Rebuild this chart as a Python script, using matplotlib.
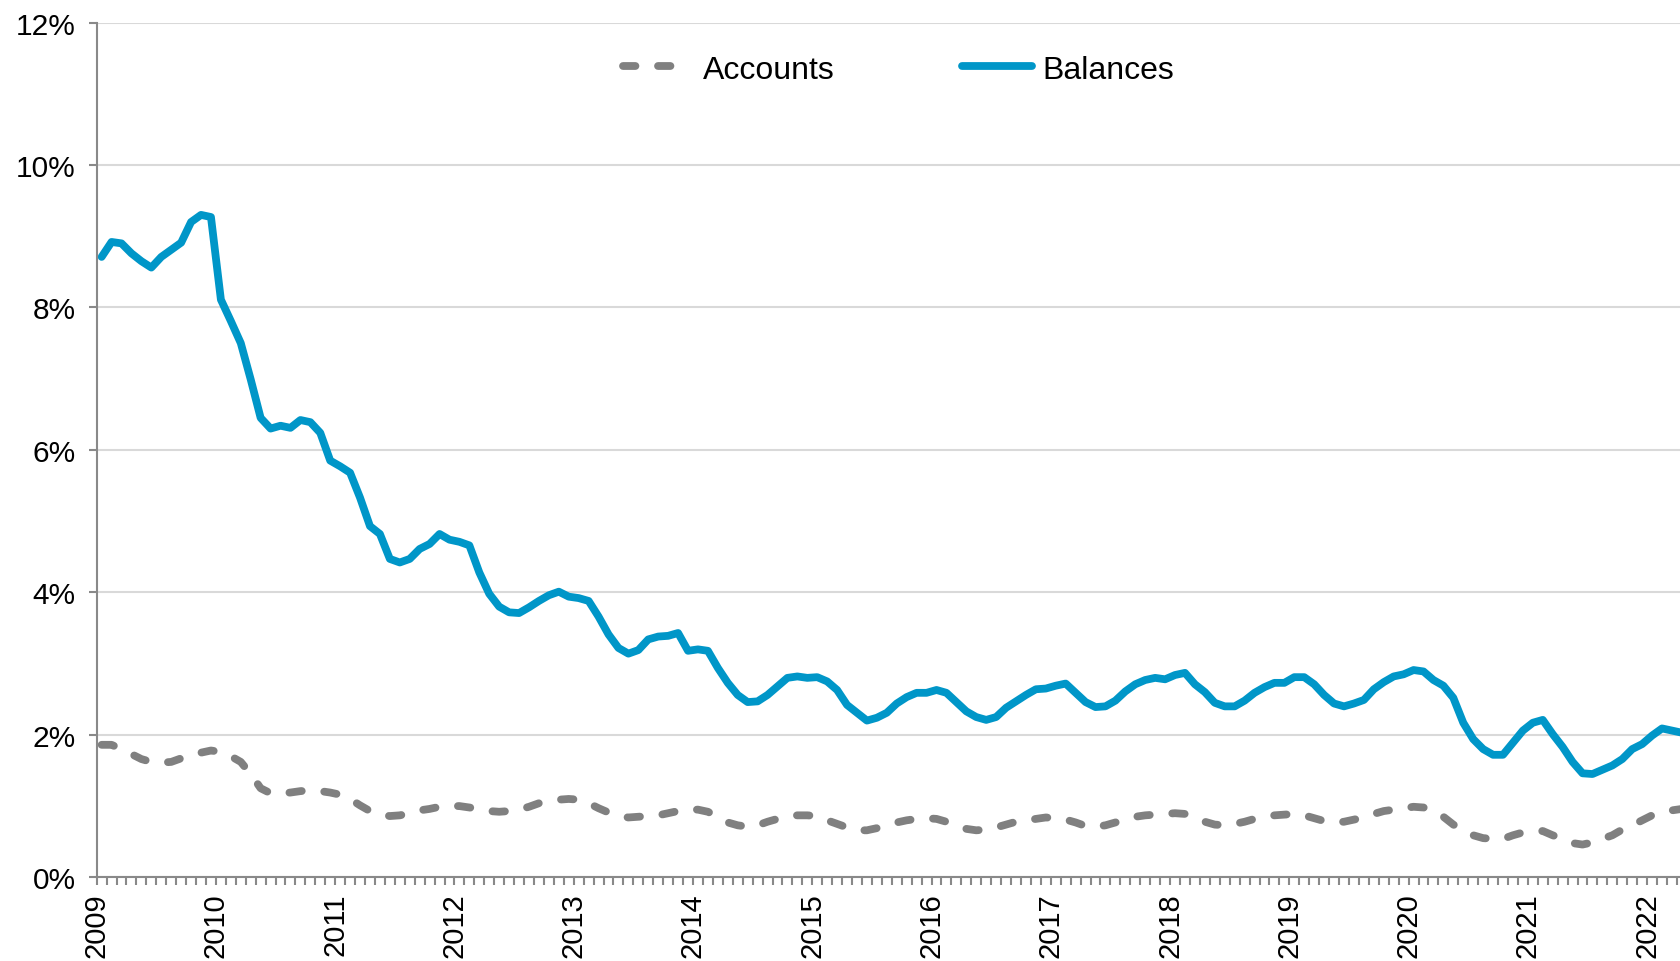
import numpy as np
import matplotlib
matplotlib.use("Agg")
import matplotlib.pyplot as plt

plt.rcParams['font.family'] = ['Liberation Sans', 'DejaVu Sans']

# Monthly data, Jan 2009 - Apr 2022 (%)
years = list(range(2009, 2023))

balances = [
    8.71, 8.92, 8.90, 8.76, 8.65, 8.56, 8.71, 8.81, 8.91, 9.20, 9.30, 9.27,  # 2009
    8.11, 7.81, 7.50, 6.99, 6.45, 6.30, 6.34, 6.31, 6.42, 6.39, 6.24, 5.85,  # 2010
    5.77, 5.68, 5.33, 4.93, 4.82, 4.47, 4.42, 4.47, 4.61, 4.68, 4.82, 4.74,  # 2011
    4.71, 4.66, 4.28, 3.98, 3.80, 3.72, 3.71, 3.79, 3.88, 3.96, 4.01, 3.94,  # 2012
    3.92, 3.88, 3.66, 3.41, 3.22, 3.14, 3.19, 3.34, 3.38, 3.39, 3.43, 3.18,  # 2013
    3.20, 3.18, 2.94, 2.73, 2.56, 2.46, 2.47, 2.56, 2.68, 2.80, 2.82, 2.80,  # 2014
    2.81, 2.75, 2.63, 2.42, 2.31, 2.20, 2.24, 2.31, 2.44, 2.53, 2.59, 2.59,  # 2015
    2.63, 2.59, 2.46, 2.33, 2.25, 2.21, 2.25, 2.38, 2.47, 2.56, 2.64, 2.65,  # 2016
    2.69, 2.72, 2.59, 2.46, 2.39, 2.40, 2.48, 2.61, 2.71, 2.77, 2.80, 2.78,  # 2017
    2.84, 2.87, 2.71, 2.60, 2.45, 2.40, 2.40, 2.48, 2.59, 2.67, 2.73, 2.73,  # 2018
    2.81, 2.81, 2.71, 2.56, 2.44, 2.40, 2.44, 2.49, 2.64, 2.74, 2.82, 2.85,  # 2019
    2.91, 2.89, 2.77, 2.69, 2.52, 2.17, 1.94, 1.80, 1.72, 1.72, 1.89, 2.06,  # 2020
    2.17, 2.21, 2.01, 1.83, 1.62, 1.46, 1.45, 1.51, 1.57, 1.66, 1.80, 1.87,  # 2021
    1.99, 2.09, 2.06, 2.03,                                                  # 2022
]

accounts = [
    1.86, 1.86, 1.80, 1.73, 1.66, 1.62, 1.61, 1.62, 1.67, 1.71, 1.75, 1.78,  # 2009
    1.76, 1.70, 1.62, 1.45, 1.25, 1.18, 1.18, 1.19, 1.21, 1.22, 1.21, 1.19,  # 2010
    1.16, 1.10, 1.01, 0.93, 0.88, 0.86, 0.87, 0.90, 0.94, 0.96, 0.99, 1.00,  # 2011
    1.00, 0.98, 0.96, 0.93, 0.92, 0.93, 0.95, 0.99, 1.04, 1.07, 1.09, 1.10,  # 2012
    1.09, 1.04, 0.97, 0.91, 0.86, 0.84, 0.85, 0.86, 0.87, 0.90, 0.93, 0.95,  # 2013
    0.95, 0.92, 0.85, 0.77, 0.73, 0.71, 0.73, 0.78, 0.82, 0.86, 0.87, 0.87,  # 2014
    0.86, 0.80, 0.75, 0.70, 0.66, 0.66, 0.69, 0.73, 0.77, 0.80, 0.82, 0.83,  # 2015
    0.82, 0.78, 0.73, 0.68, 0.66, 0.67, 0.70, 0.74, 0.78, 0.80, 0.82, 0.84,  # 2016
    0.83, 0.81, 0.77, 0.72, 0.71, 0.73, 0.77, 0.81, 0.85, 0.87, 0.88, 0.89,  # 2017
    0.90, 0.89, 0.85, 0.78, 0.74, 0.73, 0.75, 0.78, 0.82, 0.85, 0.87, 0.88,  # 2018
    0.89, 0.87, 0.83, 0.79, 0.77, 0.78, 0.81, 0.84, 0.89, 0.93, 0.95, 0.97,  # 2019
    0.99, 0.98, 0.93, 0.85, 0.74, 0.67, 0.59, 0.55, 0.54, 0.54, 0.59, 0.63,  # 2020
    0.64, 0.65, 0.59, 0.54, 0.48, 0.46, 0.49, 0.54, 0.59, 0.67, 0.73, 0.80,  # 2021
    0.87, 0.92, 0.94, 0.96,                                                  # 2022
]

blue = '#0096c8'
grey = '#808080'
axis_col = '#898989'

fig = plt.figure(figsize=(16.81, 9.62), dpi=100)
ax = fig.add_axes([0.0575, 0.087, 0.946, 0.8885])

x = np.arange(len(balances))
ax.plot(x, accounts, color=grey, lw=5.6, dashes=(1.6, 2.9),
        dash_capstyle='round', dash_joinstyle='round', label='Accounts')
ax.plot(x, balances, color=blue, lw=5.6, solid_capstyle='round',
        solid_joinstyle='round', label='Balances')

ax.set_ylim(0, 12)
ax.set_yticks(range(0, 13, 2))
ax.set_yticklabels([f'{v}%' for v in range(0, 13, 2)])

ax.set_xlim(-0.5, len(balances) - 0.5)
ax.set_xticks(np.arange(len(years)) * 12 - 0.5)
ax.set_xticklabels([str(y) for y in years], rotation=90)
ax.set_xticks(np.arange(-0.5, len(balances), 1), minor=True)

ax.grid(axis='y', color='#d9d9d9', lw=1.5)
ax.set_axisbelow(True)

for s in ['top', 'right']:
    ax.spines[s].set_visible(False)
for s in ['left', 'bottom']:
    ax.spines[s].set_color(axis_col)
    ax.spines[s].set_linewidth(1.5)

ax.tick_params(axis='y', length=6, width=1.5, color=axis_col, labelsize=21.5, pad=9)
ax.tick_params(axis='x', which='both', length=6, width=1.5, color=axis_col,
               labelsize=21, pad=5)

ax.legend(loc='center', bbox_to_anchor=(0.504, 0.945), ncol=2, frameon=False,
          fontsize=23, handlelength=2.2, handletextpad=0.3, columnspacing=4)

fig.savefig('out.png', dpi=100)
